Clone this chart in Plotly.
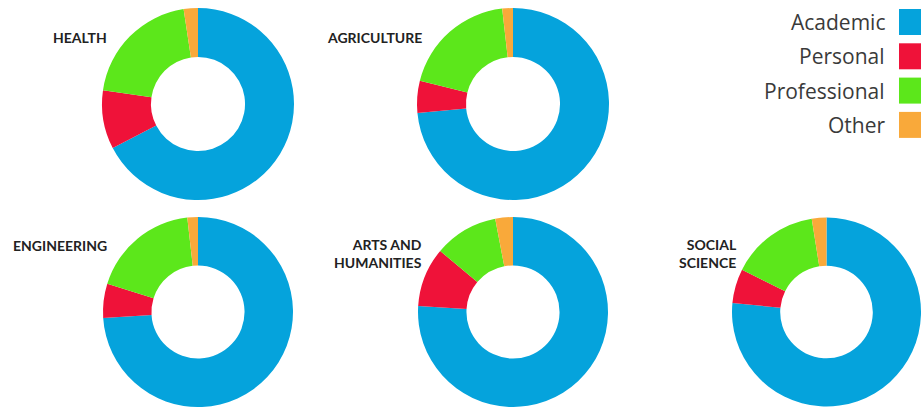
import plotly.graph_objects as go

categories = ["Academic", "Personal", "Professional", "Other"]
colors = ["#05A3DC", "#EF1239", "#5CE71B", "#F9A93A"]

fields = ["HEALTH", "AGRICULTURE", "ENGINEERING", "ARTS AND<br>HUMANITIES", "SOCIAL<br>SCIENCE"]
academic = [67.4, 73.5, 74.0, 76.0, 76.5]
personal = [9.9, 5.4, 5.8, 10.1, 5.9]
professional = [20.3, 19.3, 18.4, 10.9, 15.1]
other = [2.4, 1.8, 1.8, 3.0, 2.5]

W, H = 921, 407
R = 96
# pixel centres (from top-left) of each donut and label anchor
centers = [(198, 104), (513, 104), (198, 313), (513, 313), (828, 313)]
label_pos = [(109, 37), (424, 37), (109, 245), (424, 253), (739, 253)]

fig = go.Figure()
for i, name in enumerate(fields):
    cx, cy = centers[i]
    x0 = max(0, (cx - R) / W)
    x1 = min(1, (cx + R) / W)
    yb = H - cy
    y0 = max(0, (yb - R) / H)
    y1 = min(1, (yb + R) / H)
    fig.add_trace(go.Pie(
        labels=categories,
        values=[academic[i], personal[i], professional[i], other[i]],
        marker=dict(colors=colors, line=dict(width=0)),
        hole=0.49,
        sort=False,
        direction="clockwise",
        rotation=0,
        textinfo="none",
        hoverinfo="label+percent",
        showlegend=False,
        domain=dict(x=[x0, x1], y=[y0, y1]),
    ))
    lx, ly = label_pos[i]
    fig.add_annotation(
        x=lx / W, y=1 - ly / H, xref="paper", yref="paper",
        text="<b>" + name + "</b>", showarrow=False,
        xanchor="right", yanchor="middle", align="right",
        font=dict(family="Lato, sans-serif", size=14, color="#222222"),
    )

# custom legend: text left of coloured squares
for j, cat in enumerate(categories):
    top = 9 + j * 34.3
    fig.add_shape(type="rect", xref="paper", yref="paper",
                  x0=899 / W, x1=926 / W, y0=1 - (top + 26) / H, y1=1 - top / H,
                  fillcolor=colors[j], line=dict(width=0))
    fig.add_annotation(x=887 / W, y=1 - (top + 13) / H, xref="paper", yref="paper",
                       text=cat, showarrow=False, xanchor="right", yanchor="middle",
                       font=dict(family="Open Sans, sans-serif", size=21, color="#3a3a3a"))

fig.update_layout(
    width=W, height=H,
    margin=dict(l=0, r=0, t=0, b=0),
    paper_bgcolor="white", plot_bgcolor="white",
)
fig.write_html("out.html", config={"displayModeBar": False},
               post_script="document.body.style.margin='0';document.body.style.overflow='hidden';")
